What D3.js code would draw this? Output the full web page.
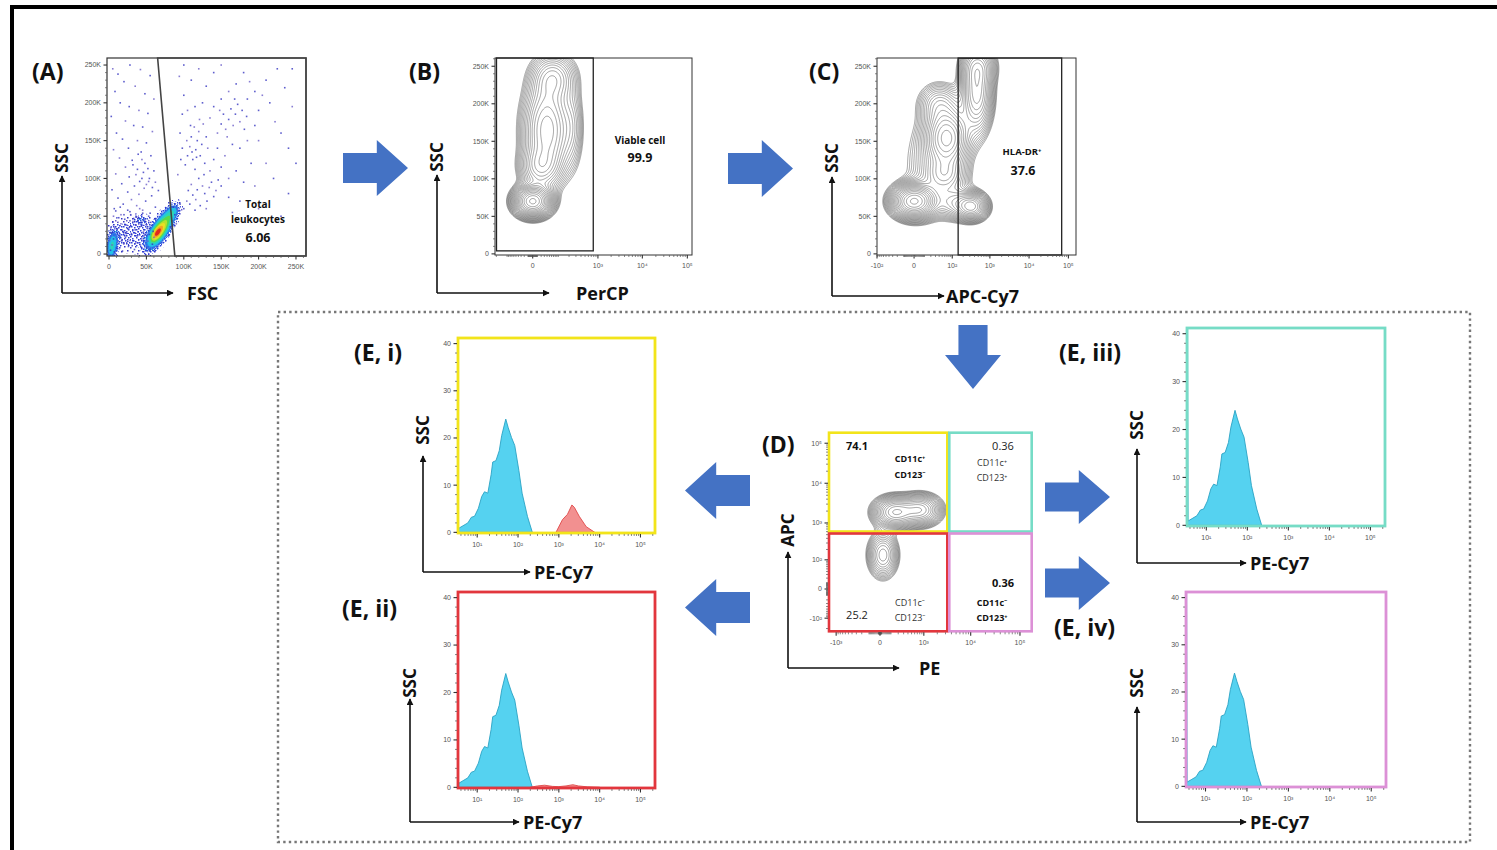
<!DOCTYPE html>
<html>
<head>
<meta charset="utf-8">
<script src="https://cdn.jsdelivr.net/npm/d3@7"></script>
<style>
  body { margin: 0; background: #fff; }
  svg { display: block; }
</style>
</head>
<body>
<svg id="fig" width="1497" height="850"></svg>
<script>
// ------------------------------------------------------------------
// Data: gating strategy for HLA-DR+ / CD11c / CD123 dendritic cells
// ------------------------------------------------------------------

// linear scatter axes (thousands)
const scatterTicks = [0, 50, 100, 150, 200, 250];
const scatterTickLabels = ["0", "50K", "100K", "150K", "200K", "250K"];

// fluorescence axes
const percpTicks = [0, 1e3, 1e4, 1e5];
const percpTickLabels = ["0", "10³", "10⁴", "10⁵"];
const apcCy7Ticks = [-1e2, 0, 1e2, 1e3, 1e4, 1e5];
const apcCy7TickLabels = ["-10²", "0", "10²", "10³", "10⁴", "10⁵"];
const peTicks = [-1e3, 0, 1e3, 1e4, 1e5];
const peTickLabels = ["-10³", "0", "10³", "10⁴", "10⁵"];
const apcTicks = [-1e2, 0, 1e2, 1e3, 1e4, 1e5];
const apcTickLabels = ["-10²", "0", "10²", "10³", "10⁴", "10⁵"];
const peCy7Ticks = [1e1, 1e2, 1e3, 1e4, 1e5];
const peCy7TickLabels = ["10¹", "10²", "10³", "10⁴", "10⁵"];
const countTicks = [0, 10, 20, 30, 40];
const countTickLabels = ["0", "10", "20", "30", "40"];

// (A) FSC / SSC events, in thousands
const scatterA = [
  [5,245],[12,238],[28,250],[42,244],[55,236],[20,228],[35,222],[8,215],[48,212],[60,205],
  [15,200],[27,195],[40,190],[52,186],[3,182],[22,176],[33,170],[45,168],[58,162],[10,160],
  [18,152],[38,150],[50,147],[26,140],[6,138],[43,135],[56,130],[14,127],[31,124],[48,120],
  [22,115],[38,112],[60,110],[9,106],[27,102],[44,100],[53,96],[17,93],[34,90],[47,87],
  [4,85],[25,82],[40,79],[57,77],[12,74],[30,72],[49,70],[19,66],[37,64],[62,62],
  [7,60],[45,58],[28,56],[55,54],[16,52],[36,50],
  [32,118],[36,105],[41,96],[46,108],[50,92],[54,100],[58,88],[62,95],[66,84],[52,113],[44,125],[39,132],
  [2,5],[4,12],[6,20],[3,28],[8,35],[5,42],[10,8],[12,16],[14,25],[11,33],[16,40],[13,48],
  [18,4],[20,14],[22,22],[19,30],[24,38],[21,46],[26,10],[28,18],[30,27],[27,35],[32,43],[29,52],
  [34,6],[36,15],[38,24],[35,32],[40,40],[37,49],[42,12],[44,20],[46,29],[43,37],[48,45],[45,54],
  [50,8],[52,17],[54,26],[51,34],[56,42],[53,50],[58,13],[60,22],[57,38],[62,47],[6,50],[9,57],
  [25,58],[41,60],[15,62],[33,47],[47,25],[39,44],[23,27],[17,19],[31,11],[55,6],[49,39],[59,30],
  [7,3],[1,18],[3,36],[44,42],[36,38],[28,44],[20,52],[12,42],
  [84,44],[88,52],[92,58],[86,62],[95,66],[90,40],[82,36],
  [100,60],[104,70],[108,66],[112,78],[116,72],[118,85],[122,64],[125,90],[128,80],[131,70],
  [134,88],[137,95],[140,76],[143,84],[146,98],[150,90],[110,92],[120,100],[127,105],[135,110],
  [106,84],[115,58],[130,60],
  [102,118],[105,130],[108,142],[110,155],[112,125],[114,168],[116,138],[118,150],[120,162],[122,130],
  [124,145],[126,172],[128,120],[130,155],[104,150],[109,170],[115,112],[121,178],[98,140],[96,125],
  [132,140],[117,128],[111,135],
  [145,160],[150,172],[153,185],[156,165],[160,178],[163,192],[166,170],[169,185],[172,198],[175,175],
  [178,190],[181,165],[158,155],[168,205],[184,182],[148,190],
  [140,125],[145,140],[155,130],[165,145],[175,140],[185,150],[195,170],[200,190],[205,210],[210,230],
  [195,215],[188,228],[180,240],[170,225],[160,215],[150,205],[140,195],[135,180],[125,200],[115,195],
  [105,190],[100,210],[110,230],[120,245],[130,222],[140,240],[150,250],[185,205],[215,200],[222,175],
  [230,160],[240,140],[245,195],[235,220],[225,245],[200,150],[190,120],[170,110],[160,100],[150,115],
  [180,95],[210,120],[160,75],[175,70],[195,90],[220,100],[240,80],[200,60],[185,50],[230,50],
  [165,55],[250,120],[245,245],[92,105],[95,160],[98,185],[94,235],[100,250]
];
// (A) dense populations (FSC, SSC in thousands; spread along / across the tilt)
const denseA = [
  { x: 70, y: 34, sx: 18, sy: 6.5, rot: 58, w: 1.0 },
  { x: 63, y: 27, sx: 8,  sy: 4,   rot: 58, w: 0.5 },
  { x: 4,  y: 10, sx: 12, sy: 4.5, rot: 82, w: 0.5 },
  { x: 28, y: 26, sx: 24, sy: 17,  rot: 0,  w: 0.15 },
  { x: 44, y: 45, sx: 6,  sy: 5,   rot: 0,  w: 0.14 },
  { x: 86, y: 56, sx: 7,  sy: 5,   rot: 58, w: 0.22 }
];
const gateA = { fscTop: 65, fscBottom: 88 };
const statA = ["Total", "leukocytes", "6.06"];

// (B) PerCP viability vs SSC populations (PerCP value, SSC K; spread in decades / K)
const popB = [
  { x: 0,   y: 70,  sx: 0.22, sy: 11, w: 1.0 },
  { x: 40,  y: 165, sx: 0.30, sy: 38, w: 0.4 },
  { x: 70,  y: 235, sx: 0.28, sy: 18, w: 0.2 },
  { x: 15,  y: 115, sx: 0.25, sy: 16, w: 0.2 },
  { x: 250, y: 170, sx: 0.15, sy: 35, w: 0.07 }
];
const gateB = { percpMax: 780, sscMin: 4 };
const statB = ["Viable cell", "99.9"];

// (C) APC-Cy7 (HLA-DR) vs SSC populations
const popC = [
  { x: 0,   y: 70,  sx: 0.30, sy: 12, w: 1.0 },
  { x: 340, y: 63,  sx: 0.22, sy: 10, w: 0.5 },
  { x: 70,  y: 155, sx: 0.30, sy: 22, w: 0.5 },
  { x: 460, y: 215, sx: 0.22, sy: 30, w: 0.4 },
  { x: 60,  y: 105, sx: 0.30, sy: 14, w: 0.2 },
  { x: 40,  y: 200, sx: 0.30, sy: 16, w: 0.15 },
  { x: 500, y: 250, sx: 0.25, sy: 15, w: 0.2 },
  { x: 120, y: 68,  sx: 0.30, sy: 12, w: 0.2 },
  { x: 30,  y: 120, sx: 0.50, sy: 40, w: 0.08 }
];
const gateC = { min: 146, max: 67500 };
const statC = ["HLA-DR⁺", "37.6"];

// (D) PE (CD123) vs APC (CD11c) populations
const popD = [
  { x: 151, y: 1875, sx: 0.22, sy: 0.20, w: 1.0 },
  { x: 813, y: 2140, sx: 0.22, sy: 0.20, w: 0.8 },
  { x: 22,  y: 139,  sx: 0.16, sy: 0.30, w: 0.45 }
];
const quadD = { pe: 3435, apc: 568 };
const quadStats = ["74.1", "0.36", "25.2", "0.36"];
const quadNames = [["CD11c⁺", "CD123⁻"], ["CD11c⁺", "CD123⁺"], ["CD11c⁻", "CD123⁻"], ["CD11c⁻", "CD123⁺"]];

// (E) PE-Cy7 histograms: [PE-Cy7 value, count]
const histBlue = [
  [3.2,0.6],[3.6,0.9],[4.5,1.4],[5.9,2.0],[7.2,3.2],[8.6,3.4],[10.7,5.1],[12.9,7.6],[15.1,8.6],[18.2,8.3],
  [21.9,12.2],[24,14.9],[28.8,15.2],[34.7,17.3],[39.8,20.5],[50.1,24.0],[57.5,22.2],[69.2,20.1],[83.2,18.4],
  [105,13.1],[126,8.3],[170,3.4],[224,0]
];
const histBlueEdge = [
  [3.2,48],[3.5,48],[3.6,0.9],[4.5,1.4],[5.9,2.0],[7.2,3.2],[8.6,3.4],[10.7,5.1],[12.9,7.6],[15.1,8.6],[18.2,8.3],
  [21.9,12.2],[24,14.9],[28.8,15.2],[34.7,17.3],[39.8,20.5],[50.1,24.0],[57.5,22.2],[69.2,20.1],[83.2,18.4],
  [105,13.1],[126,8.3],[170,3.4],[224,0]
];
const histRedI = [[851,0],[1230,2.7],[1622,3.8],[2089,5.8],[2399,5.3],[3162,3.4],[4677,1.2],[7586,0]];
const histRedII = [[200,0],[300,0.3],[450,0.45],[700,0.2],[1000,0.15],[1500,0.3],[2200,0.55],[3000,0.3],[5000,0.1],[10000,0]];

// ------------------------------------------------------------------
// Drawing helpers
// ------------------------------------------------------------------
const svg = d3.select("#fig");
const FONT = "'Open Sans', 'Noto Sans', 'DejaVu Sans', sans-serif";
const TICKFONT = "'Liberation Sans', Arial, sans-serif";
const ARROW_BLUE = "#4472c4";

const defs = svg.append("defs");
defs.append("marker")
  .attr("id", "head").attr("viewBox", "0 0 10 10")
  .attr("refX", 9).attr("refY", 5)
  .attr("markerWidth", 7).attr("markerHeight", 7)
  .attr("markerUnits", "userSpaceOnUse")
  .attr("orient", "auto")
  .append("path").attr("d", "M0,0 L10,5 L0,10 z").attr("fill", "#111");

// speckled fills for the sparse end of the pseudocolour scale
function speckle(id, size, dots, color) {
  const pat = defs.append("pattern").attr("id", id).attr("patternUnits", "userSpaceOnUse")
    .attr("width", size).attr("height", size);
  pat.selectAll("rect").data(dots).join("rect")
    .attr("x", d => d[0]).attr("y", d => d[1]).attr("width", 1.5).attr("height", 1.5)
    .attr("fill", d => d[2] || color);
}
speckle("speckleLo", 11, [[1,2],[6,1],[3,6],[9,5],[5,9],[10,10],[8,8,"#6a5cc8"]], "#3434c8");
speckle("speckleMid", 8, [[0,0],[3,1],[6,0],[1,4],[5,3],[2,6],[7,5],[4,7]], "#2f3fd8");
speckle("speckleHi", 6, [[0,0],[3,0],[1,2],[4,2],[0,4],[3,4],[2,5,"#22b8e6"],[5,5]], "#2856e0");

let clipId = 0;
function clipFor(p) {
  const id = "clip" + (clipId++);
  defs.append("clipPath").attr("id", id)
    .append("rect").attr("x", p.x).attr("y", p.y).attr("width", p.w).attr("height", p.h);
  return "url(#" + id + ")";
}

function linearMinors(domain, step) {
  const out = [];
  for (let v = Math.ceil(domain[0] / step) * step; v <= domain[1]; v += step) out.push(v);
  return out;
}
function symMinors(domain, majors) {
  const out = [];
  for (let k = 0; k <= 5; k++) for (let m = 1; m <= 9; m++) {
    const v = m * Math.pow(10, k);
    if (v <= domain[1]) out.push(v);
    if (-v >= domain[0]) out.push(-v);
  }
  return out.filter(v => !majors.includes(v));
}
function logMinors(domain, majors) {
  const out = [];
  for (let k = 0; k <= 5; k++) for (let m = 1; m <= 9; m++) {
    const v = m * Math.pow(10, k);
    if (v >= domain[0] && v <= domain[1]) out.push(v);
  }
  return out.filter(v => !majors.includes(v));
}

function xAxis(p, xs, ticks, labels, minors) {
  const g = svg.append("g");
  const yb = p.y + p.h;
  g.selectAll("line.mj").data(ticks).join("line")
    .attr("x1", d => xs(d)).attr("x2", d => xs(d)).attr("y1", yb).attr("y2", yb + 3.5)
    .attr("stroke", "#333").attr("stroke-width", 1.1);
  g.selectAll("line.mn").data(minors).join("line")
    .attr("x1", d => xs(d)).attr("x2", d => xs(d)).attr("y1", yb).attr("y2", yb + 2)
    .attr("stroke", "#555").attr("stroke-width", 0.7);
  g.selectAll("text").data(ticks).join("text")
    .attr("x", d => xs(d)).attr("y", yb + 12.5)
    .attr("text-anchor", "middle").attr("font-family", TICKFONT).attr("font-size", 7)
    .attr("fill", "#555").text((d, i) => labels[i]);
}
function yAxis(p, ys, ticks, labels, minors) {
  const g = svg.append("g");
  g.selectAll("line.mj").data(ticks).join("line")
    .attr("x1", p.x - 3.5).attr("x2", p.x).attr("y1", d => ys(d)).attr("y2", d => ys(d))
    .attr("stroke", "#333").attr("stroke-width", 1.1);
  g.selectAll("line.mn").data(minors).join("line")
    .attr("x1", p.x - 2).attr("x2", p.x).attr("y1", d => ys(d)).attr("y2", d => ys(d))
    .attr("stroke", "#555").attr("stroke-width", 0.7);
  g.selectAll("text").data(ticks).join("text")
    .attr("x", p.x - 6).attr("y", d => ys(d) + 2.4)
    .attr("text-anchor", "end").attr("font-family", TICKFONT).attr("font-size", 7)
    .attr("fill", "#555").text((d, i) => labels[i]);
}

function frame(p, color, width) {
  svg.append("rect").attr("x", p.x).attr("y", p.y).attr("width", p.w).attr("height", p.h)
    .attr("fill", "none").attr("stroke", color).attr("stroke-width", width);
}

// density surface of a set of populations on a 1px grid covering the plot
function densityGrid(p, comps, xs, ys, ux, uy) {
  const w = Math.round(p.w), h = Math.round(p.h);
  const vals = new Array(w * h).fill(0);
  comps.forEach(c => {
    const cx = xs(c.x) - p.x, cy = ys(c.y) - p.y;
    const sx = c.sx * ux, sy = c.sy * uy;
    const a = (c.rot || 0) * Math.PI / 180, ca = Math.cos(a), sa = Math.sin(a);
    for (let j = 0; j < h; j++) {
      const dy = j + 0.5 - cy;
      for (let i = 0; i < w; i++) {
        const dx = i + 0.5 - cx;
        const u = dx * ca - dy * sa, v = dx * sa + dy * ca;
        vals[j * w + i] += c.w * Math.exp(-0.5 * (u * u / (sx * sx) + v * v / (sy * sy)));
      }
    }
  });
  return { w, h, vals, max: d3.max(vals) };
}

// clipped layer whose inner group is in plot-local coordinates
function plotLayer(p) {
  return svg.append("g").attr("clip-path", clipFor(p))
    .append("g").attr("transform", `translate(${p.x},${p.y})`);
}

function contourPlot(p, comps, xs, ys, ux, uy, nLevels, lo, hi) {
  const grid = densityGrid(p, comps, xs, ys, ux, uy);
  const ths = d3.range(nLevels).map(k => grid.max * lo * Math.pow(hi / lo, k / (nLevels - 1)));
  const cs = d3.contours().size([grid.w, grid.h]).thresholds(ths)(grid.vals);
  const path = d3.geoPath();
  plotLayer(p).selectAll("path").data(cs).join("path")
    .attr("d", d => path(d))
    .attr("fill", "none").attr("stroke", "#3a3a3a").attr("stroke-width", 0.55)
    .attr("stroke-opacity", 0.85);
}

function rightArrow(x0, y0, x1, y1) {
  const h = y1 - y0, w = x1 - x0, my = (y0 + y1) / 2, bh = h * 0.27, hx = x0 + w * 0.52;
  return `M${x0},${my - bh} L${hx},${my - bh} L${hx},${y0} L${x1},${my} L${hx},${y1} L${hx},${my + bh} L${x0},${my + bh} Z`;
}
function leftArrow(x0, y0, x1, y1) {
  const h = y1 - y0, w = x1 - x0, my = (y0 + y1) / 2, bh = h * 0.27, hx = x1 - w * 0.52;
  return `M${x1},${my - bh} L${hx},${my - bh} L${hx},${y0} L${x0},${my} L${hx},${y1} L${hx},${my + bh} L${x1},${my + bh} Z`;
}
function downArrow(x0, y0, x1, y1) {
  const w = x1 - x0, h = y1 - y0, mx = (x0 + x1) / 2, bw = w * 0.26, hy = y0 + h * 0.47;
  return `M${mx - bw},${y0} L${mx + bw},${y0} L${mx + bw},${hy} L${x1},${hy} L${mx},${y1} L${x0},${hy} L${mx - bw},${hy} Z`;
}

function axisGlyph(x, yTop, yBot, xEnd, xName, yName, yNameY) {
  const g = svg.append("g");
  g.append("line").attr("x1", x).attr("y1", yBot).attr("x2", x).attr("y2", yTop)
    .attr("stroke", "#111").attr("stroke-width", 1.6).attr("marker-end", "url(#head)");
  g.append("line").attr("x1", x).attr("y1", yBot).attr("x2", xEnd).attr("y2", yBot)
    .attr("stroke", "#111").attr("stroke-width", 1.6).attr("marker-end", "url(#head)");
  g.append("text").attr("x", xName.x).attr("y", yBot + 6.5).attr("font-family", FONT)
    .attr("font-weight", 700).attr("font-size", 18).attr("fill", "#111").text(xName.t);
  g.append("text").attr("transform", `translate(${x + 5.5},${yNameY}) rotate(-90)`)
    .attr("text-anchor", "middle").attr("font-family", FONT)
    .attr("font-weight", 700).attr("font-size", 17).attr("fill", "#111").text(yName);
}

function panelLabel(x, y, t) {
  svg.append("text").attr("x", x).attr("y", y).attr("font-family", FONT)
    .attr("font-weight", 700).attr("font-size", 23).attr("fill", "#111").text(t);
}

function statText(x, y, t, size, weight, color) {
  svg.append("text").attr("x", x).attr("y", y).attr("text-anchor", "middle")
    .attr("font-family", FONT).attr("font-weight", weight).attr("font-size", size)
    .attr("fill", color || "#111").text(t);
}

// ------------------------------------------------------------------
// Figure frame
// ------------------------------------------------------------------
svg.append("rect").attr("x", 12).attr("y", 7).attr("width", 1500).attr("height", 860)
  .attr("fill", "none").attr("stroke", "#000").attr("stroke-width", 4);
svg.append("rect").attr("x", 278).attr("y", 312).attr("width", 1192).attr("height", 530)
  .attr("fill", "none").attr("stroke", "#777").attr("stroke-width", 2.4)
  .attr("stroke-dasharray", "2.4,3.2");

// ------------------------------------------------------------------
// (A) FSC vs SSC, total leukocytes
// ------------------------------------------------------------------
{
  const p = { x: 107, y: 58, w: 199, h: 198 };
  const xd = [-2.7, 263.4], yd = [-2.6, 259.3];
  const xs = d3.scaleLinear().domain(xd).range([p.x, p.x + p.w]);
  const ys = d3.scaleLinear().domain(yd).range([p.y + p.h, p.y]);

  // pseudocolour density of the crowded region
  const grid = densityGrid(p, denseA, xs, ys, xs(1) - xs(0), ys(0) - ys(1));
  const bands = [
    [0.035, "url(#speckleLo)", 1], [0.07, "url(#speckleMid)", 1], [0.11, "url(#speckleHi)", 1],
    [0.17, "#2a72e6", 0.9], [0.25, "#22c2e6", 1], [0.36, "#2fd6b0", 1],
    [0.47, "#5bd84a", 1], [0.58, "#b8e02e", 1], [0.68, "#eadf25", 1],
    [0.79, "#f3a322", 1], [0.9, "#e2281e", 1]
  ];
  const cs = d3.contours().size([grid.w, grid.h]).thresholds(bands.map(b => b[0] * grid.max))(grid.vals);
  const path = d3.geoPath();
  svg.append("g").attr("clip-path", clipFor(p))
    .selectAll("path").data(cs).join("path")
    .attr("transform", `translate(${p.x},${p.y})`)
    .attr("d", d => path(d))
    .attr("fill", (d, i) => bands[i][1]).attr("fill-opacity", (d, i) => bands[i][2]);

  svg.append("g").attr("clip-path", clipFor(p)).selectAll("rect").data(scatterA).join("rect")
    .attr("x", d => xs(d[0]) - 0.8).attr("y", d => ys(d[1]) - 0.8)
    .attr("width", 1.6).attr("height", 1.6)
    .attr("fill", (d, i) => i % 3 === 0 ? "#6a5cc8" : "#3636c0").attr("fill-opacity", 0.8);

  frame(p, "#333", 1.2);
  const gatePts = [[gateA.fscTop, yd[1]], [gateA.fscBottom, yd[0]], [xd[1], yd[0]], [xd[1], yd[1]]];
  svg.append("path").attr("d", "M" + gatePts.map(d => [xs(d[0]), ys(d[1])].join(",")).join("L") + "Z")
    .attr("fill", "none").attr("stroke", "#444").attr("stroke-width", 1.6);

  xAxis(p, xs, scatterTicks, scatterTickLabels, linearMinors(xd, 10).filter(v => v % 50));
  yAxis(p, ys, scatterTicks, scatterTickLabels, linearMinors(yd, 10).filter(v => v % 50));

  statText(258, 208, statA[0], 10, 700);
  statText(258, 223, statA[1], 10, 700);
  statText(258, 242, statA[2], 12.5, 700);

  panelLabel(32, 80, "(A)");
  axisGlyph(62, 176, 293, 173, { x: 187, t: "FSC" }, "SSC", 158);
}

// ------------------------------------------------------------------
// (B) PerCP viability gate
// ------------------------------------------------------------------
{
  const p = { x: 495, y: 58, w: 197, h: 197 };
  const xd = [-217, 126900], yd = [-1.5, 261];
  const xs = d3.scaleSymlog().constant(37).domain(xd).range([p.x, p.x + p.w]);
  const ys = d3.scaleLinear().domain(yd).range([p.y + p.h, p.y]);
  contourPlot(p, popB, xs, ys, xs(1e5) - xs(1e4), ys(0) - ys(1), 22, 0.03, 0.95);
  frame(p, "#333", 1);
  svg.append("rect").attr("x", p.x + 1.5).attr("y", p.y).attr("width", xs(gateB.percpMax) - p.x - 1.5)
    .attr("height", ys(gateB.sscMin) - p.y)
    .attr("fill", "none").attr("stroke", "#222").attr("stroke-width", 1.3);
  xAxis(p, xs, percpTicks, percpTickLabels, symMinors(xd, percpTicks));
  yAxis(p, ys, scatterTicks, scatterTickLabels, linearMinors(yd, 10).filter(v => v % 50));
  statText(640, 144, statB[0], 10, 700);
  statText(640, 162, statB[1], 12.5, 700);
  panelLabel(409, 80, "(B)");
  axisGlyph(437, 175, 293, 549, { x: 576, t: "PerCP" }, "SSC", 157);
}

// ------------------------------------------------------------------
// (C) HLA-DR (APC-Cy7) gate
// ------------------------------------------------------------------
{
  const p = { x: 877, y: 58, w: 199, h: 197 };
  const xd = [-93, 156000], yd = [-1.5, 261];
  const xs = d3.scaleSymlog().constant(12).domain(xd).range([p.x, p.x + p.w]).clamp(true);
  const ys = d3.scaleLinear().domain(yd).range([p.y + p.h, p.y]);
  contourPlot(p, popC, xs, ys, xs(1e5) - xs(1e4), ys(0) - ys(1), 22, 0.03, 0.95);
  frame(p, "#333", 1);
  svg.append("rect").attr("x", xs(gateC.min)).attr("y", p.y)
    .attr("width", xs(gateC.max) - xs(gateC.min)).attr("height", p.h)
    .attr("fill", "none").attr("stroke", "#222").attr("stroke-width", 1.3);
  xAxis(p, xs, apcCy7Ticks, apcCy7TickLabels, symMinors(xd, apcCy7Ticks));
  yAxis(p, ys, scatterTicks, scatterTickLabels, linearMinors(yd, 10).filter(v => v % 50));
  statText(1022, 155, statC[0], 9.5, 700);
  statText(1023, 175, statC[1], 12.5, 700);
  panelLabel(809, 80, "(C)");
  axisGlyph(832, 177, 296, 944, { x: 946, t: "APC-Cy7" }, "SSC", 158);
}

// big arrows between the top panels
svg.append("path").attr("d", rightArrow(343, 140, 408, 196)).attr("fill", ARROW_BLUE);
svg.append("path").attr("d", rightArrow(728, 140, 793, 197)).attr("fill", ARROW_BLUE);
svg.append("path").attr("d", downArrow(945, 325, 1001, 389)).attr("fill", ARROW_BLUE);

// ------------------------------------------------------------------
// (D) CD11c (APC) vs CD123 (PE) quadrants
// ------------------------------------------------------------------
{
  const p = { x: 828, y: 431.7, w: 204.7, h: 200.6 };
  const xd = [-1530, 180900], yd = [-254, 194000];
  const xs = d3.scaleSymlog().constant(150).domain(xd).range([p.x, p.x + p.w]);
  const ys = d3.scaleSymlog().constant(23).domain(yd).range([p.y + p.h, p.y]);
  contourPlot(p, popD, xs, ys, xs(1e5) - xs(1e4), ys(1e4) - ys(1e5), 18, 0.04, 0.95);

  const qx = xs(quadD.pe), qy = ys(quadD.apc);
  const quads = [
    { x0: p.x, y0: p.y, x1: qx, y1: qy, c: "#f2e41a" },
    { x0: qx, y0: p.y, x1: p.x + p.w, y1: qy, c: "#76dcc6" },
    { x0: p.x, y0: qy, x1: qx, y1: p.y + p.h, c: "#e2363d" },
    { x0: qx, y0: qy, x1: p.x + p.w, y1: p.y + p.h, c: "#dc90d6" }
  ];
  svg.append("g").selectAll("rect").data(quads).join("rect")
    .attr("x", d => d.x0 + 1).attr("y", d => d.y0 + 1)
    .attr("width", d => d.x1 - d.x0 - 2).attr("height", d => d.y1 - d.y0 - 2)
    .attr("fill", "none").attr("stroke", d => d.c).attr("stroke-width", 2.6);

  xAxis(p, xs, peTicks, peTickLabels, symMinors(xd, peTicks));
  yAxis(p, ys, apcTicks, apcTickLabels, symMinors(yd, apcTicks));

  statText(857, 450, quadStats[0], 11, 700);
  statText(910, 462, quadNames[0][0], 9, 700);
  statText(910, 478, quadNames[0][1], 9, 700);
  statText(1003, 450, quadStats[1], 11, 400, "#222");
  statText(992, 466, quadNames[1][0], 9, 400, "#333");
  statText(992, 481, quadNames[1][1], 9, 400, "#333");
  statText(857, 619, quadStats[2], 11, 400, "#222");
  statText(910, 606, quadNames[2][0], 9, 400, "#333");
  statText(910, 621, quadNames[2][1], 9, 400, "#333");
  statText(1003, 587, quadStats[3], 11, 700);
  statText(992, 606, quadNames[3][0], 9, 700);
  statText(992, 621, quadNames[3][1], 9, 700);

  panelLabel(762, 453, "(D)");
  axisGlyph(788, 552, 668, 899, { x: 919, t: "PE" }, "APC", 530);
}

// arrows from the quadrants to the histograms
svg.append("path").attr("d", leftArrow(685, 462, 750, 519)).attr("fill", ARROW_BLUE);
svg.append("path").attr("d", leftArrow(685, 579, 750, 636)).attr("fill", ARROW_BLUE);
svg.append("path").attr("d", rightArrow(1045, 470, 1110, 524)).attr("fill", ARROW_BLUE);
svg.append("path").attr("d", rightArrow(1045, 556, 1110, 610)).attr("fill", ARROW_BLUE);

// ------------------------------------------------------------------
// (E) PE-Cy7 histograms for each quadrant
// ------------------------------------------------------------------
function histPanel(p, color, blue, red, label, lab, glyph) {
  const xd = [3.2, 2.4e5], yd = [-0.35, 41.4];
  const xs = d3.scaleLog().domain(xd).range([p.x, p.x + p.w]);
  const ys = d3.scaleLinear().domain(yd).range([p.y + p.h, p.y]);
  const area = d3.area().x(d => xs(d[0])).y0(ys(0)).y1(d => ys(Math.min(d[1], yd[1])));
  const g = svg.append("g").attr("clip-path", clipFor(p));
  g.append("path").datum(blue).attr("d", area)
    .attr("fill", "#55d2f0").attr("stroke", "#2aa3c4").attr("stroke-width", 0.9);
  if (red) {
    g.append("path").datum(red).attr("d", area)
      .attr("fill", "#f29090").attr("stroke", "#e04848").attr("stroke-width", 0.9);
  }
  frame({ x: p.x + 1, y: p.y + 1, w: p.w - 2, h: p.h - 2 }, color, 2.8);
  xAxis(p, xs, peCy7Ticks, peCy7TickLabels, logMinors(xd, peCy7Ticks));
  yAxis(p, ys, countTicks, countTickLabels, linearMinors(yd, 2).filter(v => v % 10));
  panelLabel(lab.x, lab.y, label);
  axisGlyph(glyph.x, glyph.top, glyph.bot, glyph.end, { x: glyph.end + 4, t: "PE-Cy7" }, "SSC", glyph.ssc);
}

histPanel({ x: 457, y: 337, w: 199, h: 197 }, "#f2e41a", histBlue, histRedI, "(E, i)",
  { x: 354, y: 361 }, { x: 423, top: 456, bot: 572, end: 530, ssc: 430 });
histPanel({ x: 457, y: 591, w: 199, h: 198 }, "#e2363d", histBlue, histRedII, "(E, ii)",
  { x: 342, y: 617 }, { x: 410, top: 699, bot: 822, end: 519, ssc: 683 });
histPanel({ x: 1186, y: 327, w: 200, h: 200 }, "#76dcc6", histBlueEdge, null, "(E, iii)",
  { x: 1059, y: 361 }, { x: 1137, top: 449, bot: 563, end: 1246, ssc: 425 });
histPanel({ x: 1185, y: 591, w: 202, h: 197 }, "#dc90d6", histBlueEdge, null, "(E, iv)",
  { x: 1054, y: 636 }, { x: 1137, top: 707, bot: 822, end: 1246, ssc: 683 });
</script>
</body>
</html>
